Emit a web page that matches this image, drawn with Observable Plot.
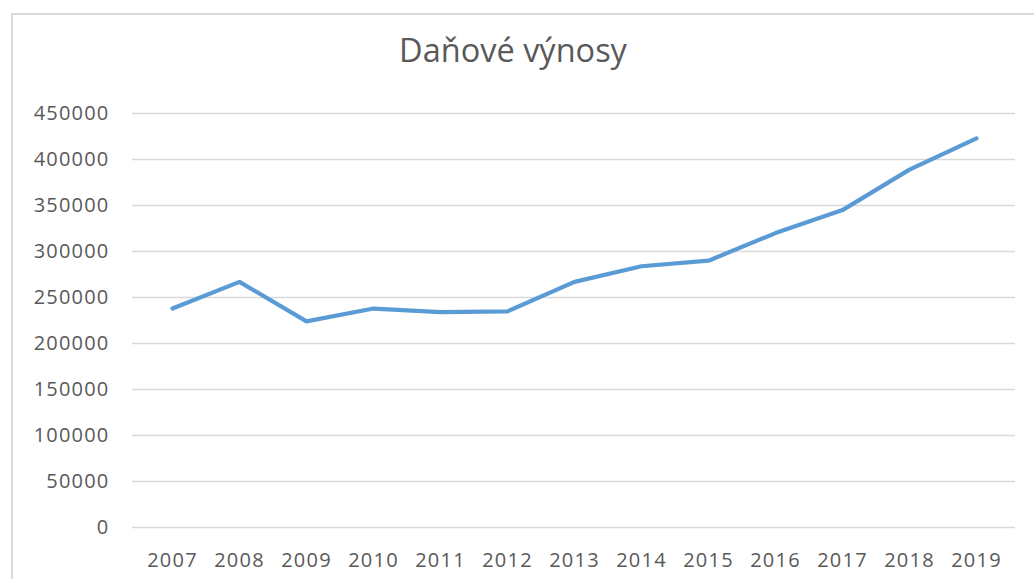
<!DOCTYPE html>
<html>
<head>
<meta charset="utf-8">
<script src="https://cdn.jsdelivr.net/npm/d3@7"></script>
<script src="https://cdn.jsdelivr.net/npm/@observablehq/plot@0.6"></script>
<style>
  html, body { margin: 0; padding: 0; background: #ffffff; }
  #wrap { position: relative; width: 1034px; height: 579px; overflow: hidden; background: #ffffff; }
  #title {
    width: 1026px; padding-right: 8px; height: 100px; line-height: 100px;
    text-align: center; font-family: "Open Sans", sans-serif; font-size: 32.5px;
    color: #595959; white-space: nowrap;
  }
  #frame {
    position: absolute; left: 11px; top: 13px; width: 1100px; height: 700px;
    border-left: 2px solid #d9d9d9; border-top: 2px solid #d9d9d9; pointer-events: none;
  }
  svg { display: block; }
</style>
</head>
<body>
<div id="wrap">
  <div id="title">Daňové výnosy</div>
  <div id="chart"></div>
  <div id="frame"></div>
</div>
<script>
const years = ["2007","2008","2009","2010","2011","2012","2013","2014","2015","2016","2017","2018","2019"];
const values = [238000, 267000, 224000, 238000, 234000, 235000, 267000, 284000, 290000, 320000, 345000, 389000, 423000];
const yTicks = [0, 50000, 100000, 150000, 200000, 250000, 300000, 350000, 400000, 450000];

const data = years.map((year, i) => ({year, value: values[i]}));

const chart = Plot.plot({
  width: 1034,
  height: 479,
  marginTop: 13,
  marginBottom: 52,
  marginLeft: 132,
  marginRight: 19,
  style: {
    fontFamily: "'Open Sans', sans-serif",
    fontSize: "20px",
    color: "#595959",
    background: "transparent",
    letterSpacing: "1.2px"
  },
  x: { type: "point", domain: years, padding: 0.5, label: null },
  y: { domain: [0, 450000], label: null },
  marks: [
    Plot.gridY(yTicks, { stroke: "#d9d9d9", strokeOpacity: 1, strokeWidth: 1.3 }),
    Plot.axisY(yTicks, { tickSize: 0, tickPadding: 23, tickFormat: d => String(d), label: null }),
    Plot.axisX(years, { tickSize: 0, tickPadding: 25, label: null }),
    Plot.line(data, { x: "year", y: "value", stroke: "#5B9BD5", strokeWidth: 4.2, strokeLinecap: "round", strokeLinejoin: "round" })
  ]
});
document.getElementById("chart").appendChild(chart);
</script>
</body>
</html>
